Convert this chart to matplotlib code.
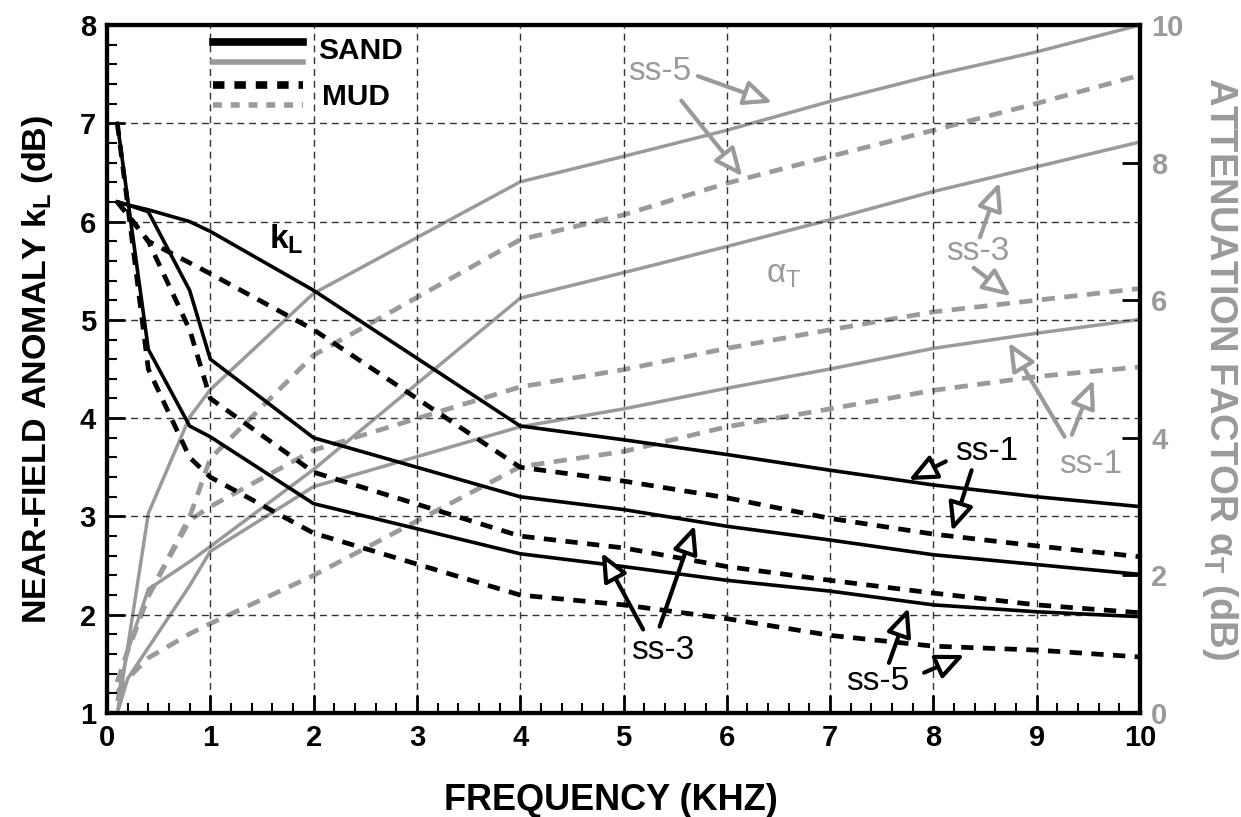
import matplotlib
matplotlib.use('Agg')
import matplotlib.pyplot as plt
from matplotlib.ticker import MultipleLocator

plt.rcParams['font.family'] = ['Liberation Sans', 'DejaVu Sans']
plt.rcParams['font.weight'] = 'bold'
plt.rcParams['axes.labelweight'] = 'bold'
plt.rcParams['mathtext.default'] = 'regular'

# frequency (kHz)
freq = [0.1, 0.2, 0.4, 0.8, 1, 2, 4, 5, 6, 7, 8, 9, 10]

# near-field anomaly kL (dB), left axis
kL_sand_ss1 = [6.2, 6.17, 6.12, 6.0, 5.9, 5.3, 3.92, 3.78, 3.63, 3.47, 3.32, 3.2, 3.1]
kL_sand_ss3 = [6.2, 6.17, 6.1, 5.3, 4.6, 3.8, 3.2, 3.07, 2.9, 2.76, 2.61, 2.51, 2.41]
kL_sand_ss5 = [7.0, 6.23, 4.7, 3.92, 3.81, 3.13, 2.62, 2.49, 2.35, 2.24, 2.1, 2.03, 1.98]
kL_mud_ss1 = [6.2, 6.07, 5.8, 5.58, 5.47, 4.9, 3.5, 3.36, 3.19, 2.98, 2.82, 2.7, 2.59]
kL_mud_ss3 = [6.2, 6.07, 5.8, 4.9, 4.2, 3.45, 2.8, 2.68, 2.49, 2.35, 2.22, 2.1, 2.02]
kL_mud_ss5 = [7.0, 6.17, 4.5, 3.6, 3.4, 2.83, 2.2, 2.1, 1.96, 1.79, 1.68, 1.64, 1.57]

# attenuation factor alpha_T (dB), right axis
aT_sand_ss5 = [0.0, 0.95, 2.9, 4.3, 4.7, 6.1, 7.72, 8.09, 8.47, 8.89, 9.27, 9.61, 10.0]
aT_sand_ss3 = [0.2, 0.9, 1.8, 2.2, 2.42, 3.54, 6.03, 6.4, 6.78, 7.17, 7.58, 7.94, 8.3]
aT_sand_ss1 = [0.0, 0.5, 0.95, 1.85, 2.35, 3.29, 4.16, 4.42, 4.72, 5.0, 5.3, 5.52, 5.72]
aT_mud_ss5 = [0.45, 0.9, 1.7, 2.85, 3.7, 5.2, 6.88, 7.24, 7.7, 8.09, 8.47, 8.86, 9.27]
aT_mud_ss3 = [0.45, 0.9, 1.7, 2.8, 3.0, 3.82, 4.74, 4.99, 5.3, 5.57, 5.83, 6.0, 6.17]
aT_mud_ss1 = [0.3, 0.5, 0.8, 1.15, 1.3, 2.0, 3.58, 3.8, 4.16, 4.42, 4.69, 4.89, 5.03]

GRAY = '#9a9a9a'

fig = plt.figure(figsize=(12.41, 8.17), dpi=100)
ax = fig.add_axes([107/1241, 1 - 713/817, (1140 - 107)/1241, (713 - 25)/817])
ax2 = ax.twinx()
ax.set_zorder(ax2.get_zorder() + 1)
ax.patch.set_visible(False)

for v in (aT_sand_ss5, aT_sand_ss3, aT_sand_ss1):
    ax2.plot(freq, v, color=GRAY, lw=2.5)
for v in (aT_mud_ss5, aT_mud_ss3, aT_mud_ss1):
    ax2.plot(freq, v, color=GRAY, lw=3.4, dashes=(2.8, 2.0))
for v in (kL_sand_ss1, kL_sand_ss3, kL_sand_ss5):
    ax.plot(freq, v, color='black', lw=2.6)
for v in (kL_mud_ss1, kL_mud_ss3, kL_mud_ss5):
    ax.plot(freq, v, color='black', lw=3.4, dashes=(2.6, 2.0))

ax.set_xlim(0, 10)
ax.set_ylim(1, 8)
ax2.set_ylim(0, 10)
ax.xaxis.set_major_locator(MultipleLocator(1))
ax.xaxis.set_minor_locator(MultipleLocator(0.2))
ax.yaxis.set_major_locator(MultipleLocator(1))
ax.yaxis.set_minor_locator(MultipleLocator(0.2))
ax2.yaxis.set_major_locator(MultipleLocator(2))

ax.tick_params(which='both', direction='in', labelsize=21, top=False, right=False, pad=8)
ax.tick_params(which='major', length=13, width=2)
ax.tick_params(which='minor', length=7, width=1.5)
ax2.tick_params(direction='in', length=13, width=2, labelsize=21, labelcolor=GRAY, pad=8)
ax.grid(True, which='major', ls=(0, (5, 3.5)), lw=1.0, color='#333333')

for a in (ax, ax2):
    for s in a.spines.values():
        s.set_linewidth(3)

ax.set_xlabel('FREQUENCY (KHZ)', fontsize=26, labelpad=22)
ax.xaxis.label.set_x(0.488)
ax.set_ylabel('NEAR-FIELD ANOMALY k$_L$ (dB)', fontsize=24.5, labelpad=18)
ax2.set_ylabel('ATTENUATION FACTOR α$_T$ (dB)', fontsize=27.5, color=GRAY,
               rotation=270, va='bottom', labelpad=12)

# legend drawn by hand
tr = ax.transAxes
ax.plot([0.103, 0.19], [0.975, 0.975], color='black', lw=5.5, transform=tr, clip_on=False)
ax.plot([0.103, 0.19], [0.946, 0.946], color=GRAY, lw=4, transform=tr, clip_on=False)
ax.plot([0.103, 0.19], [0.913, 0.913], color='black', lw=5.5, dashes=(1.5, 1.3), transform=tr, clip_on=False)
ax.plot([0.103, 0.19], [0.884, 0.884], color=GRAY, lw=4, dashes=(1.6, 1.6), transform=tr, clip_on=False)
ax.text(0.204, 0.962, 'SAND', fontsize=21.5, transform=tr, va='center')
ax.text(0.208, 0.895, 'MUD', fontsize=21.5, transform=tr, va='center')

ax.text(1.74, 5.82, 'k$_L$', fontsize=24, ha='center', va='center')
ax.text(6.55, 5.46, 'α$_T$', fontsize=24, ha='center', va='center', color=GRAY, weight='normal')


def arrow(tail, tip, color):
    ax.annotate('', xy=tip, xytext=tail,
                arrowprops=dict(arrowstyle='-|>,head_length=0.85,head_width=0.38',
                                mutation_scale=20, lw=3, ec=color, fc='white',
                                shrinkA=0, shrinkB=0))


def label(x, y, s, color='black'):
    ax.text(x, y, s, fontsize=24, color=color, weight='normal', ha='center', va='center')


# gray labels (alpha_T)
label(5.35, 7.53, 'ss-5', GRAY)
arrow((5.72, 7.48), (6.44, 7.21), GRAY)
arrow((5.56, 7.23), (6.15, 6.46), GRAY)
label(8.43, 5.70, 'ss-3', GRAY)
arrow((8.45, 5.84), (8.64, 6.40), GRAY)
arrow((8.39, 5.53), (8.75, 5.24), GRAY)
label(9.52, 3.53, 'ss-1', GRAY)
arrow((9.27, 3.81), (8.73, 4.77), GRAY)
arrow((9.34, 3.83), (9.55, 4.39), GRAY)

# black labels (kL)
label(8.52, 3.66, 'ss-1')
arrow((8.12, 3.56), (7.76, 3.37), 'black')
arrow((8.37, 3.47), (8.18, 2.85), 'black')
label(5.38, 1.64, 'ss-3')
arrow((5.19, 1.85), (4.79, 2.63), 'black')
arrow((5.35, 1.88), (5.69, 2.91), 'black')
label(7.46, 1.32, 'ss-5')
arrow((7.57, 1.51), (7.76, 2.07), 'black')
arrow((7.91, 1.41), (8.30, 1.59), 'black')

fig.savefig('out.png', dpi=100)
